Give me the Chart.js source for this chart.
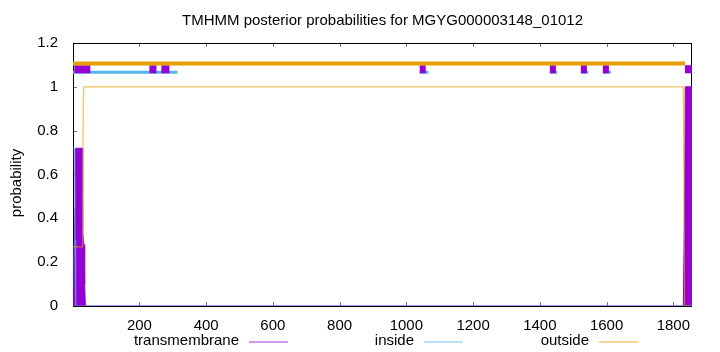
<!DOCTYPE html>
<html>
<head>
<meta charset="utf-8">
<script src="https://cdn.jsdelivr.net/npm/chart.js@4.4.0/dist/chart.umd.min.js"></script>
<style>
  html, body { margin: 0; padding: 0; background: #fff; }
  #wrap { width: 720px; height: 352px; }
</style>
</head>
<body>
<div id="wrap"><canvas id="tmhmm" width="720" height="352"></canvas></div>
<script>
const chartTitle = 'TMHMM posterior probabilities for MGYG000003148_01012';
const yTitle = 'probability';
const seqLength = 1856;
const xTicks = [200, 400, 600, 800, 1000, 1200, 1400, 1600, 1800];
const yTicks = [0, 0.2, 0.4, 0.6, 0.8, 1, 1.2];

// posterior probabilities per residue (only where they change)
const residues    = [1,    3,    5,    7,    9,    11,   28,   30,   32,   34,   36,   38,   1830, 1832, 1834, 1836, 1856];
const tmProb      = [0,    0.25, 0.3,  0.45, 0.72, 0.72, 0.72, 0.35, 0.3,  0.28, 0.1,  0,    0,    0,    0.5,  1,    1];
const insideProb  = [0.72, 0.72, 0.72, 0.3,  0,    0,    0,    0,    0,    0,    0,    0,    0,    0,    0,    0,    0];
const outsideProb = [0.27, 0.27, 0.27, 0.27, 0.27, 0.27, 0.27, 0.6,  0.95, 1,    1,    1,    1,    0.5,  0,    0,    0];

// predicted topology bars above the curves, [start, end] residues
const outsideSegs = [[1, 1835]];
const insideSegs = [[1, 314], [1040, 1066], [1430, 1452], [1523, 1545], [1589, 1613]];
const tmSegs = [[5, 53], [230, 251], [266, 290], [1040, 1058], [1430, 1448], [1523, 1541], [1589, 1607], [1835, 1856]];
const outsideLevel = 1.106;
const tmLevel = 1.08;
const insideLevel = 1.067;

const legendNames = ['transmembrane', 'inside', 'outside'];

const purple = '#9400d3';
const blue = '#56b4e9';
const orange = '#e69f00';
const FONT = '"Liberation Sans", Arial, sans-serif';

function pts(ys) {
  return residues.map((r, i) => ({ x: r, y: ys[i] }));
}
function segPts(segs, level) {
  const out = [];
  segs.forEach(([a, b]) => {
    out.push({ x: a, y: level }, { x: b, y: level }, { x: b + 0.5, y: null });
  });
  return out;
}

const base = { pointRadius: 0, tension: 0, spanGaps: false, borderCapStyle: 'butt' };

const decor = {
  id: 'decor',
  beforeDatasetsDraw(chart) {
    const { ctx, chartArea: a, scales } = chart;
    ctx.save();
    ctx.strokeStyle = '#000';
    ctx.lineWidth = 1;
    ctx.strokeRect(a.left + 0.5, a.top + 0.5, a.right - a.left - 1, a.bottom - a.top);
    ctx.strokeStyle = 'rgba(0,0,0,0.55)';
    ctx.beginPath();
    xTicks.forEach(v => {
      const x = Math.round(scales.x.getPixelForValue(v)) + 0.5;
      ctx.moveTo(x, a.bottom); ctx.lineTo(x, a.bottom - 4);
      ctx.moveTo(x, a.top); ctx.lineTo(x, a.top + 4);
    });
    yTicks.forEach(v => {
      const y = Math.round(scales.y.getPixelForValue(v)) + 0.5;
      ctx.moveTo(a.left, y); ctx.lineTo(a.left + 4, y);
      ctx.moveTo(a.right, y); ctx.lineTo(a.right - 4, y);
    });
    ctx.stroke();
    ctx.restore();
  },
  afterDraw(chart) {
    const { ctx, chartArea: a } = chart;
    ctx.save();
    ctx.fillStyle = '#000';
    ctx.font = '15px ' + FONT;
    ctx.textAlign = 'center';
    ctx.textBaseline = 'middle';
    ctx.fillText(chartTitle, (a.left + a.right) / 2, 21);

    ctx.save();
    ctx.translate(17, 183);
    ctx.rotate(-Math.PI / 2);
    ctx.fillText(yTitle, 0, 0);
    ctx.restore();

    // gnuplot style key: text, then sample line
    const lineEnds = [288, 463, 638];
    const colors = [purple, blue, orange];
    ctx.textAlign = 'right';
    legendNames.forEach((name, i) => {
      const x1 = lineEnds[i], x0 = x1 - 39;
      ctx.fillStyle = '#000';
      ctx.fillText(name, x0 - 10, 341);
      ctx.strokeStyle = colors[i];
      ctx.globalAlpha = 0.8;
      ctx.lineWidth = 1;
      ctx.beginPath();
      ctx.moveTo(x0, 342); ctx.lineTo(x1, 342);
      ctx.stroke();
      ctx.globalAlpha = 1;
    });
    ctx.restore();
  }
};

new Chart(document.getElementById('tmhmm'), {
  type: 'line',
  data: {
    datasets: [
      { ...base, label: 'outside bar', data: segPts(outsideSegs, outsideLevel), borderColor: orange, borderWidth: 4, order: 0 },
      { ...base, label: 'tm bar', data: segPts(tmSegs, tmLevel), borderColor: purple, borderWidth: 8, order: 1 },
      { ...base, label: 'inside bar', data: segPts(insideSegs, insideLevel), borderColor: blue, borderWidth: 3, order: 2 },
      { ...base, label: legendNames[2], data: pts(outsideProb), borderColor: 'rgba(230,159,0,0.65)', borderWidth: 1.2, order: 3 },
      { ...base, label: legendNames[1], data: pts(insideProb), borderColor: 'rgba(86,180,233,0.8)', borderWidth: 1.2, order: 4 },
      { ...base, label: legendNames[0], data: pts(tmProb), borderColor: purple, backgroundColor: purple, borderWidth: 1, fill: 'origin', order: 5 }
    ]
  },
  options: {
    responsive: false,
    animation: false,
    devicePixelRatio: 1,
    layout: { padding: { top: 43, right: 28, bottom: 0, left: 0 } },
    plugins: { legend: { display: false }, title: { display: false }, tooltip: { enabled: false } },
    scales: {
      x: {
        type: 'linear',
        min: 1,
        max: seqLength,
        grid: { display: false },
        border: { display: false },
        afterBuildTicks: s => { s.ticks = xTicks.map(v => ({ value: v })); },
        afterFit: s => { s.height = 46; },
        ticks: { color: '#000', font: { family: FONT, size: 15 }, padding: 3, maxRotation: 0, autoSkip: false, callback: v => String(v) }
      },
      y: {
        min: 0,
        max: 1.2,
        grid: { display: false },
        border: { display: false },
        afterBuildTicks: s => { s.ticks = yTicks.map(v => ({ value: v })); },
        afterFit: s => { s.width = 73; },
        ticks: { color: '#000', font: { family: FONT, size: 15 }, padding: 7, callback: v => String(+v.toFixed(1)) }
      }
    }
  },
  plugins: [decor]
});
</script>
</body>
</html>
